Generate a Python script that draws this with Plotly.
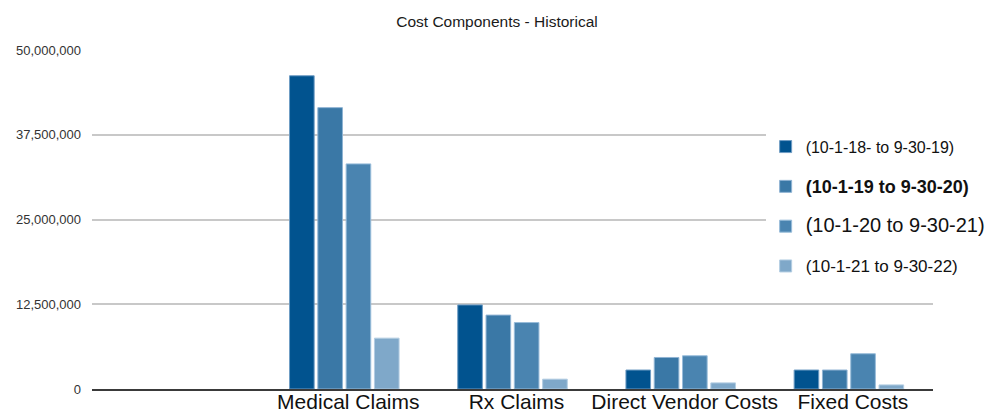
import plotly.graph_objects as go

categories = [" ", "Medical Claims", "Rx Claims", "Direct Vendor Costs", "Fixed Costs"]
bar_categories = ["Medical Claims", "Rx Claims", "Direct Vendor Costs", "Fixed Costs"]

period_names = [
    "(10-1-18- to 9-30-19)",
    "<b><span style='font-size:18px'>(10-1-19 to 9-30-20)</span></b>",
    "<span style='font-size:20px'>(10-1-20 to 9-30-21)</span>",
    "<span style='font-size:17px'>(10-1-21 to 9-30-22)</span>",
]
fy19 = [46200000, 12400000, 2800000, 2800000]
fy20 = [41500000, 10900000, 4650000, 2800000]
fy21 = [33200000, 9800000, 4900000, 5200000]
fy22 = [7500000, 1450000, 900000, 600000]
series = [fy19, fy20, fy21, fy22]

colors = ["#01538f", "#3a78a6", "#4a84b0", "#7fa8c9"]
edge_colors = ["#6f9cc4", "#8fb3d3", "#98bcda", "#b3cde2"]

y_ticks = [0, 12500000, 25000000, 37500000, 50000000]
y_tick_text = ["0", "12,500,000", "25,000,000", "37,500,000", "50,000,000"]

fig = go.Figure()
for i, (name, vals) in enumerate(zip(period_names, series)):
    fig.add_trace(go.Bar(
        x=bar_categories, y=vals, name=name,
        marker=dict(color=colors[i], line=dict(color=edge_colors[i], width=1)),
        legendgroup=f"g{i}",
    ))

fig.update_layout(
    width=994, height=411,
    margin=dict(l=92, r=61, t=50, b=22, autoexpand=False),
    paper_bgcolor="white", plot_bgcolor="white",
    barmode="group", bargap=0.327, bargroupgap=0.13,
    font=dict(family="Liberation Sans, Arial, sans-serif", color="#222"),
    title=dict(text="Cost Components - Historical", x=0.5, xanchor="center",
               y=1 - 22 / 411, yanchor="middle", yref="container",
               font=dict(size=15.5, color="#1a1a1a")),
    legend=dict(x=0.801, xanchor="left", y=0.765, yanchor="top",
                bgcolor="white", borderwidth=0,
                font=dict(size=16, color="#111"),
                tracegroupgap=16, itemwidth=30),
    showlegend=True,
)
fig.update_xaxes(
    categoryorder="array", categoryarray=categories,
    range=[-0.5, 4.5], showgrid=False, showline=True,
    linecolor="#3a3a3a", linewidth=2, ticks="",
    ticklabelstandoff=-7, ticklabelshift=4,
    tickfont=dict(size=21, color="#111"), automargin=False,
)
fig.update_yaxes(
    range=[0, 50000000], tickvals=y_ticks, ticktext=y_tick_text,
    showgrid=True, gridcolor="#c8c8c8", gridwidth=1.5,
    zeroline=False, ticks="", ticklabelstandoff=10,
    tickfont=dict(size=13, color="#333"), automargin=False,
)

fig.write_html(
    "out.html",
    config={"displayModeBar": False},
    post_script="document.body.style.margin='0';document.body.style.overflow='hidden';",
)
